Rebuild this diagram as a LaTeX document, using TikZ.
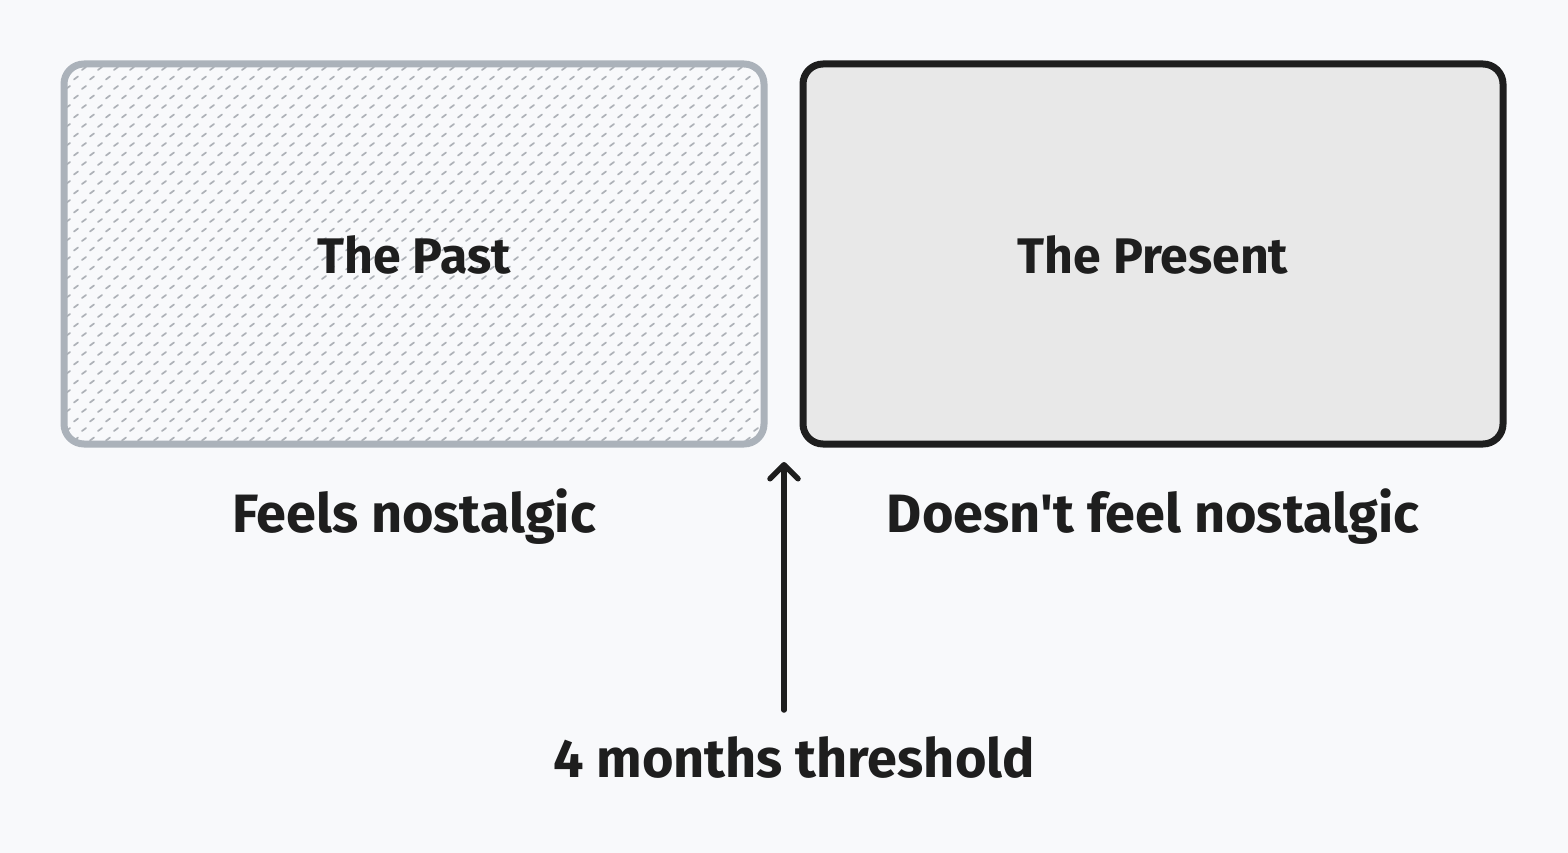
\documentclass[tikz,border=0pt]{standalone}
\usepackage{fontspec}
\setmainfont{Fira Sans}
\newfontfamily\aposfont{Fira Sans}[Ligatures=ResetAll]
\usetikzlibrary{arrows.meta}
\definecolor{bg}{HTML}{F8F9FB}
\definecolor{pastline}{HTML}{ABB2BA}
\definecolor{hatch}{HTML}{ADB1B7}
\definecolor{ink}{HTML}{1E1E1E}
\definecolor{presfill}{HTML}{E8E8E8}
\tikzset{
  boxpast/.style={draw=pastline, line width=7pt, rounded corners=20pt},
  boxpres/.style={draw=ink, fill=presfill, line width=7pt, rounded corners=20pt},
  boxlabel/.style={text=ink, font=\fontsize{50}{58}\selectfont\bfseries, inner sep=0pt},
  caption/.style={text=ink, font=\fontsize{54}{62}\selectfont\bfseries, inner sep=0pt},
  arrowline/.style={draw=ink, line width=5.5pt, line cap=round, -{Straight Barb[length=14pt,width=28pt,line width=5.5pt,round]}},
}
\begin{document}
\begin{tikzpicture}[x=1pt,y=-1pt]
\fill[bg] (0,0) rectangle (1568,853);
\useasboundingbox (0,0) rectangle (1568,853);
% past box hatch
\begin{scope}
\clip[rounded corners=20pt] (64,64) rectangle (764,444);
\foreach \j in {0,...,40}{
  \foreach \i in {0,...,45}{
    \pgfmathsetmacro{\xx}{66+16*\i+8*mod(\j,2)}
    \pgfmathsetmacro{\yy}{70+9.5*\j}
    \draw[hatch, line width=1.7pt, line cap=round] (\xx,\yy) -- ++(4,-3);
  }
}
\end{scope}
\path[boxpast] (64,64) rectangle (764,444);
\node[boxlabel] (pastlabel) at (414,255) {The Past};
\path[boxpres] (803,64) rectangle (1503,444);
\node[boxlabel] (preslabel) at (1153,255) {The Present};
\node[caption] (feels) at (414,517) {Feels nostalgic};
\node[caption] (doesnt) at (1153,517) {Doesn{\aposfont\bfseries '}t feel nostalgic};
\node[caption] (threshold) at (794,757) {4 months threshold};
\coordinate (arrowstart) at (784,710);
\coordinate (arrowend) at (784,462);
\draw[arrowline] (arrowstart) -- (arrowend);
\end{tikzpicture}
\end{document}
